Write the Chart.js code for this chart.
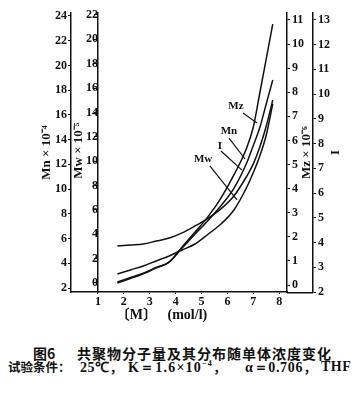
<!DOCTYPE html>
<html><head><meta charset="utf-8">
<script src="https://cdn.jsdelivr.net/npm/chart.js@4/dist/chart.umd.min.js"></script>
<style>
html,body{margin:0;padding:0;background:#fff;}
#wrap{position:relative;width:361px;height:406px;overflow:hidden;background:#fff;}
#box{position:absolute;left:0;top:0;width:361px;height:340px;}
.cap{position:absolute;white-space:nowrap;color:#111;line-height:1;font-weight:700;}
.cjk{font-family:'Noto Sans CJK SC',sans-serif;}
.lat{font-family:'Liberation Serif',serif;}
</style></head><body>
<div id="wrap">
<div id="box"><canvas id="c"></canvas></div>
<div class="cap cjk" style="left:33px;top:346px;font-size:14px;">图6</div>
<div class="cap cjk" style="left:77px;top:346px;font-size:14px;letter-spacing:1px;">共聚物分子量及其分布随单体浓度变化</div>
<div class="cap cjk" style="left:8px;top:361px;font-size:12.5px;">试验条件：</div>
<div class="cap lat" style="left:80px;top:360px;font-size:14px;letter-spacing:0.5px;">25℃<span class="cjk" style="font-size:13px">，</span></div>
<div class="cap lat" style="left:128px;top:360px;font-size:14px;letter-spacing:1.2px;">K＝1.6×10<sup style="font-size:8px">−4</sup><span class="cjk" style="font-size:13px">，</span></div>
<div class="cap lat" style="left:245px;top:360px;font-size:14px;letter-spacing:0.7px;">α＝0.706<span class="cjk" style="font-size:13px">，</span></div>
<div class="cap lat" style="left:321px;top:360px;font-size:14px;letter-spacing:0.5px;">THF</div>
</div>
<script>
// ---- data ----
const concentration = [1.75, 2.25, 2.75, 3.25, 3.75, 4.25, 4.75, 5.25, 5.75, 6.25, 6.75, 7.0, 7.25, 7.5, 7.75]; // [M] mol/l
const mzValues = [0.08, 0.27, 0.46, 0.71, 0.95, 1.58, 2.20, 2.84, 3.61, 4.57, 5.71, 6.56, 7.97, 9.40, 10.83]; // Mz x10^-6
const mnValues = [2.49, 2.85, 3.21, 3.66, 4.10, 5.24, 6.37, 7.47, 8.66, 10.06, 12.15, 13.53, 14.98, 16.90, 18.82]; // Mn x10^-4
const iValues  = [3.86, 3.90, 3.94, 4.06, 4.18, 4.39, 4.67, 4.98, 5.36, 5.88, 6.69, 7.18, 7.86, 8.71, 9.76]; // I
const mwValues = [0.74, 1.07, 1.40, 1.81, 2.22, 2.71, 3.20, 4.00, 4.84, 5.99, 7.88, 9.07, 10.43, 12.15, 14.70]; // Mw x10^-5
const xTicks  = [1, 2, 3, 4, 5, 6, 7, 8];
const mnTicks = [2, 4, 6, 8, 10, 12, 14, 16, 18, 20, 22, 24];
const mwTicks = [0, 2, 4, 6, 8, 10, 12, 14, 16, 18, 20, 22];
const mzTicks = [0, 1, 2, 3, 4, 5, 6, 7, 8, 9, 10, 11];
const iTicks  = [2, 3, 4, 5, 6, 7, 8, 9, 10, 11, 12, 13];
const seriesNames = ['Mz', 'Mn', 'I', 'Mw'];

// curve labels with leader lines (x value, Mz-axis value)
const curveNotes = [
  {text: 'Mz', at: [6.33, 7.43], from: [6.60, 7.14], to: [7.14, 6.72]},
  {text: 'Mn', at: [6.06, 6.39], from: [6.06, 6.10], to: [6.68, 5.23]},
  {text: 'I',  at: [5.71, 5.77], from: [5.75, 5.56], to: [6.56, 4.77]},
  {text: 'Mw', at: [5.06, 5.23], from: [5.32, 4.94], to: [6.37, 3.53]}
];

const INK = '#111';
const tickFont = {family: "'Liberation Serif', serif", size: 12, weight: 'bold'};
const titleFont = {family: "'Liberation Serif', serif", size: 13, weight: 'bold'};

function pts(vals){ return concentration.map((x, i) => ({x: x, y: vals[i]})); }
function fixTicks(list){ return function(s){ s.ticks = list.map(v => ({value: v})); }; }
function yGrid(){ return {display: true, drawOnChartArea: false, drawTicks: true, tickLength: 3, color: INK, lineWidth: 1}; }

const lineStyle = {borderColor: INK, borderWidth: 1.5, pointRadius: 0, fill: false, cubicInterpolationMode: 'monotone'};

const notesPlugin = {
  id: 'notes',
  afterDraw(chart){
    const ctx = chart.ctx, x = chart.scales.x, yz = chart.scales.yMz, yi = chart.scales.yI;
    const ca = chart.chartArea;
    ctx.save();
    // bottom line continues to the I axis
    ctx.strokeStyle = INK; ctx.lineWidth = 1.5;
    ctx.beginPath(); ctx.moveTo(ca.right, ca.bottom + 0.75); ctx.lineTo(yi.left, ca.bottom + 0.75); ctx.stroke();
    // curve labels
    ctx.lineWidth = 1.2;
    ctx.fillStyle = INK;
    ctx.font = "bold 11px 'Liberation Serif', serif";
    ctx.textAlign = 'center'; ctx.textBaseline = 'middle';
    curveNotes.forEach(n => {
      ctx.beginPath();
      ctx.moveTo(x.getPixelForValue(n.from[0]), yz.getPixelForValue(n.from[1]));
      ctx.lineTo(x.getPixelForValue(n.to[0]), yz.getPixelForValue(n.to[1]));
      ctx.stroke();
      ctx.fillText(n.text, x.getPixelForValue(n.at[0]), yz.getPixelForValue(n.at[1]));
    });
    // rotated titles of the inner axes
    ctx.font = "bold 13px 'Liberation Serif', serif";
    const midY = (ca.top + ca.bottom) / 2;
    ctx.translate(x.getPixelForValue(1) - 19, midY - 2);
    ctx.rotate(-Math.PI / 2);
    ctx.fillText('Mw × 10⁻⁵', 0, 0);
    ctx.setTransform(1, 0, 0, 1, 0, 0);
    ctx.translate(yi.left - 6, midY);
    ctx.rotate(-Math.PI / 2);
    ctx.fillText('Mz × 10⁻⁶', 0, 0);
    ctx.restore();
  }
};

new Chart(document.getElementById('c'), {
  type: 'line',
  data: {
    datasets: [
      Object.assign({label: seriesNames[0], data: pts(mzValues), yAxisID: 'yMz'}, lineStyle),
      Object.assign({label: seriesNames[1], data: pts(mnValues), yAxisID: 'yMn'}, lineStyle),
      Object.assign({label: seriesNames[2], data: pts(iValues),  yAxisID: 'yI'},  lineStyle),
      Object.assign({label: seriesNames[3], data: pts(mwValues), yAxisID: 'yMw'}, lineStyle)
    ]
  },
  options: {
    responsive: true, maintainAspectRatio: false, animation: false,
    layout: {padding: {top: 13, left: 0, right: 0, bottom: 0}},
    plugins: {legend: {display: false}, tooltip: {enabled: false}},
    scales: {
      x: {
        type: 'linear', position: 'bottom', min: -0.04, max: 8.30,
        afterBuildTicks: fixTicks(xTicks),
        afterFit: s => { s.height = 48; },
        grid: {display: true, drawOnChartArea: false, drawTicks: true, tickLength: 2, color: INK},
        border: {display: true, color: INK, width: 1.5},
        ticks: {font: tickFont, color: INK, padding: 1, autoSkip: false, maxRotation: 0},
        title: {display: true, text: '〔M〕   (mol/l)          ', color: INK,
                font: {family: "'Liberation Serif', 'Noto Sans CJK SC', serif", size: 14, weight: 'bold'},
                padding: {top: 0, bottom: 16}}
      },
      yMn: {
        type: 'linear', position: 'left', min: 1.68, max: 24.24,
        afterBuildTicks: fixTicks(mnTicks),
        afterFit: s => { s.width = 71; },
        grid: yGrid(),
        border: {display: true, color: INK, width: 1.5},
        ticks: {font: tickFont, color: INK, padding: 1},
        title: {display: true, text: 'Mn × 10⁻⁴', color: INK, font: titleFont, padding: {top: 39, bottom: 0}}
      },
      yMw: {
        type: 'linear', position: {x: 1}, min: -0.74, max: 22.16,
        afterBuildTicks: fixTicks(mwTicks),
        grid: yGrid(),
        border: {display: true, color: INK, width: 1.5},
        ticks: {font: tickFont, color: INK, padding: 1}
      },
      yMz: {
        type: 'linear', position: 'right', min: -0.29, max: 11.29,
        afterBuildTicks: fixTicks(mzTicks),
        afterFit: s => { s.width = 26; },
        grid: yGrid(),
        border: {display: true, color: INK, width: 1.5},
        ticks: {font: tickFont, color: INK, padding: 2}
      },
      yI: {
        type: 'linear', position: 'right', min: 2, max: 13.28,
        afterBuildTicks: fixTicks(iTicks),
        afterFit: s => { s.width = 48; },
        grid: yGrid(),
        border: {display: true, color: INK, width: 1.5},
        ticks: {font: tickFont, color: INK, padding: 2},
        title: {display: true, text: 'I', color: INK, font: titleFont, padding: {top: 19, bottom: 0}}
      }
    }
  },
  plugins: [notesPlugin]
});
</script>
</body></html>
